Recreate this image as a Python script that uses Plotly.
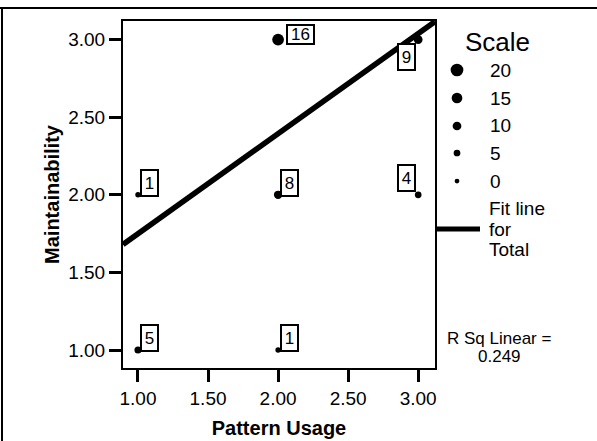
import plotly.graph_objects as go

# ---- data ----
pattern_usage = [1, 1, 2, 2, 2, 3, 3]
maintainability = [1, 2, 1, 2, 3, 2, 3]
counts = [5, 1, 1, 8, 16, 4, 9]
scale_values = [20, 15, 10, 5, 0]
x_ticks = [1.0, 1.5, 2.0, 2.5, 3.0]
y_ticks = [1.0, 1.5, 2.0, 2.5, 3.0]
fit_intercept = 1.104
fit_slope = 0.645
r_sq_lines = ["R Sq Linear =", "0.249"]
fit_legend_lines = ["Fit line", "for", "Total"]

# ---- layout geometry (pixels) ----
W, H = 597, 441
ML, MR, MT, MB = 123, 162, 21, 73
PW, PH = W - ML - MR, H - MT - MB
XR = [0.893, 3.12]
YR = [0.884, 3.12]
FONT = "Arial, Liberation Sans, Helvetica, sans-serif"


def px_x(px):
    return (px - ML) / PW


def px_y(py):
    return (H - MB - py) / PH


def msize(c):
    return 5 + 0.42 * c


fx = list(XR)
fy = [fit_intercept + fit_slope * v for v in fx]

fig = go.Figure()
fig.add_trace(go.Scatter(x=fx, y=fy, mode="lines",
                         line=dict(color="black", width=5.5),
                         hoverinfo="skip", showlegend=False))
fig.add_trace(go.Scatter(x=pattern_usage, y=maintainability, mode="markers",
                         marker=dict(color="black", opacity=1,
                                     size=[msize(c) for c in counts],
                                     line=dict(width=0, color="black")),
                         opacity=1, showlegend=False, cliponaxis=False))

annotations = []
for xi, yi, c in zip(pattern_usage, maintainability, counts):
    right = xi >= 3
    top = right and yi >= 3
    big = msize(c) > 10
    label = str(c)
    annotations.append(dict(
        x=xi, y=yi, xref="x", yref="y", text=label, showarrow=False,
        xanchor="right" if right else "left",
        yanchor="top" if top else "bottom",
        xshift=-2 if right else (8 if big else 2),
        yshift=-3 if top else (3 if right else (-5 if big else -2)),
        width=3 + 10 * len(label), height=15 if big else 22,
        bordercolor="black", borderwidth=2, borderpad=1, bgcolor="white",
        font=dict(family=FONT, size=17, color="black")))

# legend: title
annotations.append(dict(x=px_x(463), y=px_y(42), xref="paper", yref="paper",
                        text="Scale", showarrow=False, xanchor="left", yanchor="middle",
                        font=dict(family=FONT, size=26, color="black")))
shapes = []
row_y = [70, 98, 126, 153, 181]
for v, ry in zip(scale_values, row_y):
    d = msize(v) * 0.95
    cx, cy = px_x(457), px_y(ry)
    shapes.append(dict(type="circle", xref="paper", yref="paper",
                       xsizemode="pixel", ysizemode="pixel",
                       xanchor=cx, yanchor=cy,
                       x0=-d / 2, x1=d / 2, y0=-d / 2, y1=d / 2,
                       fillcolor="black", line=dict(width=0)))
    annotations.append(dict(x=px_x(488), y=px_y(ry), xref="paper", yref="paper",
                            text=str(v), showarrow=False, xanchor="left", yanchor="middle",
                            font=dict(family=FONT, size=19, color="black")))
# fit line legend
shapes.append(dict(type="line", xref="paper", yref="paper",
                   x0=px_x(435), x1=px_x(480), y0=px_y(229), y1=px_y(229),
                   line=dict(color="black", width=5)))
for i, t in enumerate(fit_legend_lines):
    annotations.append(dict(x=px_x(487), y=px_y(209 + 20 * i), xref="paper", yref="paper",
                            text=t, showarrow=False, xanchor="left", yanchor="middle",
                            font=dict(family=FONT, size=19, color="black")))
for i, t in enumerate(r_sq_lines):
    annotations.append(dict(x=px_x(499), y=px_y(338 + 18 * i), xref="paper", yref="paper",
                            text=t, showarrow=False, xanchor="center", yanchor="middle",
                            font=dict(family=FONT, size=17, color="black")))
# outer frame (top and left edge)
shapes.append(dict(type="line", xref="paper", yref="paper",
                   x0=px_x(0), x1=px_x(W), y0=px_y(8), y1=px_y(8),
                   line=dict(color="black", width=2)))
shapes.append(dict(type="line", xref="paper", yref="paper",
                   x0=px_x(2), x1=px_x(2), y0=px_y(8), y1=px_y(H),
                   line=dict(color="black", width=2)))

axis_common = dict(showline=True, linecolor="black", linewidth=2, mirror=True,
                   ticks="outside", ticklen=12, tickwidth=3, tickcolor="black",
                   showgrid=False, zeroline=False, automargin=False,
                   tickfont=dict(family=FONT, size=19, color="black"))

fig.update_layout(
    width=W, height=H,
    margin=dict(l=ML, r=MR, t=MT, b=MB, pad=0),
    paper_bgcolor="white", plot_bgcolor="white",
    xaxis=dict(range=XR, tickvals=x_ticks, ticktext=[f"{v:.2f}" for v in x_ticks],
               title=dict(text="<b>Pattern Usage</b>", standoff=13,
                          font=dict(family=FONT, size=20, color="black")),
               **axis_common),
    yaxis=dict(range=YR, tickvals=y_ticks, ticktext=[f"{v:.2f}" for v in y_ticks],
               title=dict(text="<b>Maintainability</b>", standoff=3,
                          font=dict(family=FONT, size=20, color="black")),
               **axis_common),
    shapes=shapes, annotations=annotations,
)

fig.write_html("out.html", config={"displayModeBar": False},
               post_script="document.body.style.margin='0';")
